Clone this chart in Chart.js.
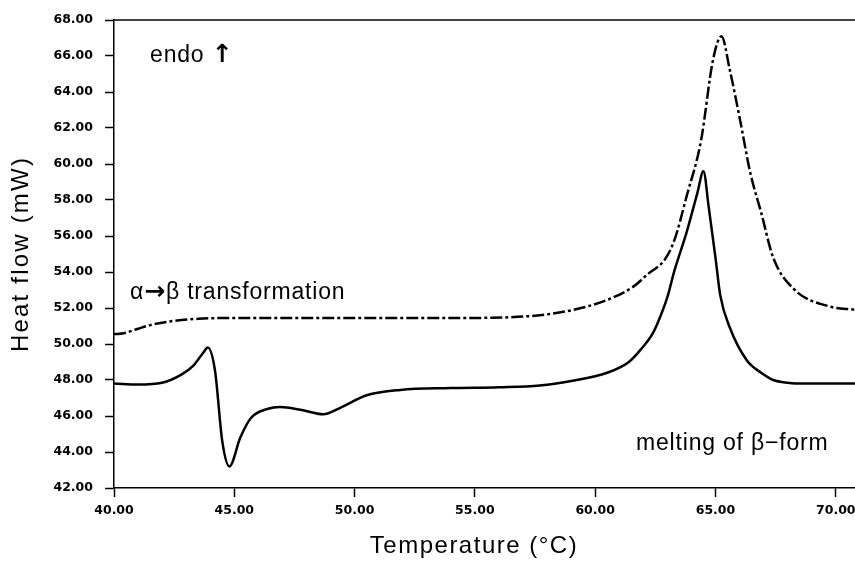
<!doctype html>
<html lang="en">

<head>
  <meta charset="utf-8">
  <title>DSC thermogram</title>
  <style>
    * {
      margin: 0;
      padding: 0;
    }

    body {
      background: #fff;
    }

    .chart-container {
      position: relative;
      width: 855px;
      height: 561px;
    }
  </style>
</head>

<body>
  <div class="chart-container">
    <canvas id="dscChart"></canvas>
  </div>

  <script src="https://cdn.jsdelivr.net/npm/chart.js"></script>

  <script>
    // heating run, solid trace
    const tempSolid = [40.0, 41.0, 42.0, 42.8, 43.3, 43.7, 43.9, 44.2, 44.5, 44.8, 45.25, 45.7, 46.4, 46.9,
      47.75, 48.7, 49.4, 50.5, 51.9, 54.0, 56.0, 57.7, 59.0, 60.5, 61.4, 61.9, 62.4, 62.7, 63.0, 63.3,
      63.8, 64.25, 64.5, 64.72, 65.0, 65.2, 65.6, 66.3, 66.9, 67.4, 68.0, 68.8, 70.8];
    const flowSolid = [47.8, 47.75, 47.85, 48.3, 48.8, 49.5, 49.8, 48.5, 44.6, 43.2, 44.8, 45.9, 46.4, 46.5,
      46.35, 46.1, 46.45, 47.15, 47.45, 47.55, 47.6, 47.7, 47.95, 48.4, 49.0, 49.7, 50.6, 51.5, 52.6, 54.1,
      56.2, 58.4, 59.6, 57.6, 54.8, 52.7, 50.9, 49.1, 48.4, 48.0, 47.85, 47.8, 47.8];

    // second run, dash-dot trace
    const tempDashed = [40.0, 40.4, 41.0, 41.5, 42.3, 43.5, 45.0, 48.0, 52.0, 55.0, 57.7, 59.1, 60.5, 61.6,
      62.2, 62.9, 63.3, 63.8, 64.4, 64.9, 65.25, 65.6, 66.0, 66.45, 66.9, 67.4, 68.3, 69.7, 70.8];
    const flowDashed = [50.55, 50.6, 50.85, 51.05, 51.25, 51.4, 51.45, 51.45, 51.45, 51.45, 51.6, 51.9, 52.45, 53.2,
      53.9, 54.7, 55.8, 58.2, 61.3, 65.8, 67.1, 65.2, 62.6, 59.5, 57.3, 54.8, 53.0, 52.1, 51.9];

    const xTicks = [40, 45, 50, 55, 60, 65, 70];
    const yTicks = [42, 44, 46, 48, 50, 52, 54, 56, 58, 60, 62, 64, 66, 68];

    // text notes placed in data coordinates (left edge, baseline)
    const notes = [
      { text: 'endo ↑', x: 41.5, y: 65.67 },
      { text: 'α→β transformation', x: 40.67, y: 52.5 },
      { text: 'melting of β−form', x: 61.7, y: 44.1 }
    ];

    const toPoints = (xs, ys) => xs.map((x, i) => ({ x: x, y: ys[i] }));

    const textFont = '"Liberation Sans", Arial, sans-serif';
    const arrowFont = '"DejaVu Sans", sans-serif';
    const tickFont = { family: '"DejaVu Sans", sans-serif', size: 12.5, weight: 'bold' };

    // draws a string left to right, switching to a font with heavier arrows
    function drawRuns(ctx, text, x, y, size) {
      const runs = text.split(/([↑→])/).filter(s => s.length);
      runs.forEach(run => {
        const isArrow = run === '↑' || run === '→';
        ctx.font = isArrow ? 'bold ' + (size + 2) + 'px ' + arrowFont : size + 'px ' + textFont;
        ctx.fillText(run, x, y);
        x += ctx.measureText(run).width;
      });
    }

    const decorPlugin = {
      id: 'decor',
      afterDraw(chart) {
        const ctx = chart.ctx;
        const area = chart.chartArea;
        const xs = chart.scales.x;
        const ys = chart.scales.y;

        ctx.save();
        // top frame line
        ctx.strokeStyle = '#000';
        ctx.lineWidth = 1.5;
        ctx.beginPath();
        ctx.moveTo(area.left, area.top);
        ctx.lineTo(area.right, area.top);
        ctx.stroke();

        ctx.fillStyle = '#000';
        ctx.textBaseline = 'alphabetic';

        // notes
        ctx.letterSpacing = '0.8px';
        ctx.textAlign = 'left';
        notes.forEach(n => {
          drawRuns(ctx, n.text, xs.getPixelForValue(n.x), ys.getPixelForValue(n.y), 23);
        });

        // axis titles
        ctx.font = '24px ' + textFont;
        ctx.letterSpacing = '1.5px';
        ctx.textAlign = 'center';
        ctx.fillText('Temperature (°C)', 474, 553);

        ctx.translate(28, (area.top + area.bottom) / 2);
        ctx.rotate(-Math.PI / 2);
        ctx.letterSpacing = '2.2px';
        ctx.fillText('Heat flow (mW)', 0, 0);
        ctx.restore();
      }
    };

    const data = {
      datasets: [{
        data: toPoints(tempSolid, flowSolid),
        borderColor: '#000',
        borderWidth: 2.5,
        pointRadius: 0,
        cubicInterpolationMode: 'monotone',
        fill: false
      }, {
        data: toPoints(tempDashed, flowDashed),
        borderColor: '#000',
        borderWidth: 2.5,
        borderDash: [12, 3, 3, 3],
        pointRadius: 0,
        cubicInterpolationMode: 'monotone',
        fill: false
      }]
    };

    const config = {
      type: 'line',
      data,
      options: {
        responsive: true,
        maintainAspectRatio: false,
        animation: false,
        layout: {
          padding: { top: 20, right: 0, left: 0, bottom: 0 }
        },
        plugins: {
          legend: { display: false },
          tooltip: { enabled: false }
        },
        scales: {
          x: {
            type: 'linear',
            min: 40,
            max: 70.8,
            // plot runs right up to the page edge
            afterFit: s => { s.height = 73; s.paddingLeft = 0; s.paddingRight = 0; },
            afterBuildTicks: s => { s.ticks = xTicks.map(v => ({ value: v })); },
            border: { display: true, color: '#000', width: 1.5 },
            grid: {
              drawOnChartArea: false,
              drawTicks: true,
              tickLength: 9,
              tickWidth: 1.5,
              tickColor: '#000'
            },
            ticks: {
              color: '#000',
              font: tickFont,
              padding: 6,
              maxRotation: 0,
              callback: v => v.toFixed(2)
            }
          },
          y: {
            type: 'linear',
            min: 42,
            max: 68,
            afterFit: s => { s.width = 114; s.paddingTop = 0; s.paddingBottom = 0; },
            afterBuildTicks: s => { s.ticks = yTicks.map(v => ({ value: v })); },
            border: { display: true, color: '#000', width: 1.5 },
            grid: {
              drawOnChartArea: false,
              drawTicks: true,
              tickLength: 9,
              tickWidth: 1.5,
              tickColor: '#000'
            },
            ticks: {
              color: '#000',
              font: tickFont,
              padding: 12,
              callback: v => v.toFixed(2)
            }
          }
        }
      },
      plugins: [decorPlugin]
    };

    const dscChart = new Chart(
      document.getElementById('dscChart'),
      config
    );
  </script>
</body>

</html>
